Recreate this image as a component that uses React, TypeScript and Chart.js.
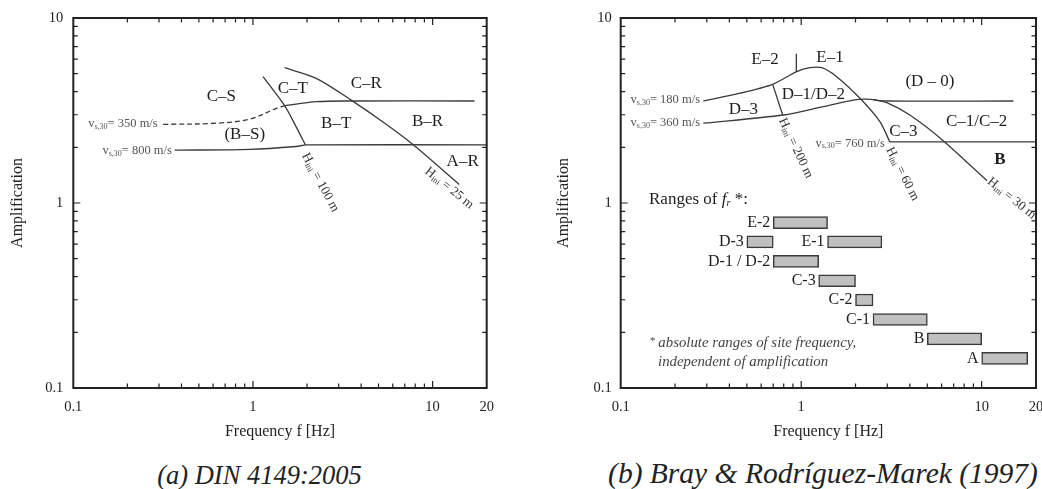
import React, { useEffect, useRef } from 'react';
import { Chart, registerables } from 'chart.js';

Chart.register(...registerables);

const SERIF = '"Liberation Serif", "Times New Roman", "DejaVu Serif", serif';

// ---------- axes ----------
const xTickLabels = [0.1, 1, 10, 20];
const yTickLabels = [0.1, 1, 10];
const minorTicks = [0.2, 0.3, 0.4, 0.5, 0.6, 0.7, 0.8, 0.9, 2, 3, 4, 5, 6, 7, 8, 9];
const majorTicks = [1, 10];

// ---------- (a) DIN 4149:2005 ----------
const din350DashF = [0.316, 0.626, 0.959, 1.35, 1.5];
const din350DashA = [2.66, 2.7, 2.84, 3.25, 3.36];
const din350F = [1.5, 1.74, 2.25, 3.44, 17.1];
const din350A = [3.36, 3.42, 3.53, 3.56, 3.56];
const din800F = [0.367, 0.959, 1.74, 1.98, 20];
const din800A = [1.93, 1.95, 2.02, 2.06, 2.06];
const dinH100F = [1.137, 1.5, 1.74, 1.96];
const dinH100A = [4.82, 3.36, 2.58, 2.06];
const dinH25F = [1.5, 2.25, 3.52, 5.27, 7.74, 14.07];
const dinH25A = [5.39, 4.72, 3.6, 2.75, 2.08, 1.26];

const dinZoneLabels = ['C\u2013S', 'C\u2013T', 'C\u2013R', '(B\u2013S)', 'B\u2013T', 'B\u2013R', 'A\u2013R'];
const dinZoneF = [0.667, 1.668, 4.27, 0.9, 2.906, 9.38, 14.7];
const dinZoneA = [3.75, 4.17, 4.44, 2.35, 2.7, 2.75, 1.67];
const dinVelLabels = ['350 m/s', '800 m/s'];
const dinVelF = [0.295, 0.354];
const dinVelA = [2.67, 1.91];
const dinDepthLabels = ['100 m', '25 m'];
const dinDepthF = [2.37, 12.38];
const dinDepthA = [1.29, 1.205];
const dinDepthAngle = [61.5, 38.7];

// ---------- (b) Bray & Rodríguez-Marek (1997) ----------
const br180F = [0.287, 0.458, 0.695, 0.944, 1.119, 1.3, 1.573, 2.117, 2.73, 3.1];
const br180A = [3.56, 3.92, 4.38, 5.13, 5.39, 5.39, 4.82, 3.68, 2.75, 2.14];
const br760F = [3.1, 20];
const br760A = [2.14, 2.14];
const br360F = [0.287, 0.796, 1.325, 1.944, 2.3, 3.0, 15.0];
const br360A = [2.7, 2.99, 3.32, 3.6, 3.64, 3.56, 3.56];
const brH30F = [2.5, 3.0, 4.0, 6.1, 10.7];
const brH30A = [3.62, 3.48, 2.99, 2.18, 1.32];
const brH200F = [0.695, 0.79];
const brH200A = [4.38, 2.99];
const brDividerF = [0.94, 0.94];
const brDividerA = [6.4, 5.13];

const brZoneLabels = ['E\u20132', 'E\u20131', '(D \u2013 0)', 'D\u20131/D\u20132', 'D\u20133', 'C\u20131/C\u20132', 'C\u20133', 'B'];
const brZoneF = [0.63, 1.444, 5.17, 1.167, 0.478, 9.38, 3.68, 12.63];
const brZoneA = [5.93, 6.1, 4.53, 3.87, 3.22, 2.75, 2.43, 1.71];
const brVelLabels = ['180 m/s', '360 m/s', '760 m/s'];
const brVelF = [0.275, 0.275, 2.91];
const brVelA = [3.6, 2.72, 2.1];
const brDepthLabels = ['200 m', '60 m', '30 m'];
const brDepthF = [0.933, 3.64, 14.66];
const brDepthA = [1.98, 1.435, 1.06];
const brDepthAngle = [64.7, 62.7, 38.7];

// ranges of site frequency (floating bars)
const rangeCats = ['E-2', 'D-3', 'E-1', 'D-1 / D-2', 'C-3', 'C-2', 'C-1', 'B', 'A'];
const rangeLow = [0.7, 0.5, 1.4, 0.7, 1.25, 2.0, 2.5, 5, 10];
const rangeHigh = [1.4, 0.7, 2.8, 1.25, 2.0, 2.5, 5, 10, 18];
const rangeRow = [0.784, 0.616, 0.616, 0.484, 0.38, 0.299, 0.2346, 0.1842, 0.1447];

const rangesTitleF = 0.1435;
const rangesTitleA = 1.047;
const noteF = [0.1455, 0.161];
const noteA = [0.1745, 0.1377];
const noteLines = ['absolute ranges of site frequency,', 'independent of amplification'];

// ---------- helpers ----------
type Part = { t: string; size: number; italic?: boolean; bold?: boolean; dy?: number };

const pts = (fs: number[], as: number[]) => fs.map((f, i) => ({ x: f, y: as[i] }));

function fontOf(p: Part) {
  return `${p.italic ? 'italic ' : ''}${p.bold ? 'bold ' : ''}${p.size}px ${SERIF}`;
}

function drawParts(
  ctx: CanvasRenderingContext2D,
  parts: Part[],
  x: number,
  y: number,
  align: 'left' | 'center' | 'right',
  color: string,
  angle = 0
) {
  ctx.save();
  ctx.translate(x, y);
  if (angle) ctx.rotate((angle * Math.PI) / 180);
  ctx.textAlign = 'left';
  ctx.textBaseline = 'middle';
  ctx.fillStyle = color;
  const widths = parts.map((p) => {
    ctx.font = fontOf(p);
    return ctx.measureText(p.t).width;
  });
  const total = widths.reduce((a, b) => a + b, 0);
  let cx = align === 'left' ? 0 : align === 'center' ? -total / 2 : -total;
  parts.forEach((p, i) => {
    ctx.font = fontOf(p);
    ctx.fillText(p.t, cx, p.dy || 0);
    cx += widths[i];
  });
  ctx.restore();
}

const lineDs = (fs: number[], as: number[], extra: any = {}) => ({
  type: 'line',
  data: pts(fs, as),
  borderColor: '#3a3a3a',
  borderWidth: 1.3,
  pointRadius: 0,
  fill: false,
  tension: 0.3,
  ...extra,
});

const frameTicksPlugin = {
  id: 'frameTicks',
  afterDraw(chart: any) {
    const { ctx, chartArea } = chart;
    const { left, right, top, bottom } = chartArea;
    const xs = chart.scales.x;
    const ys = chart.scales.y;
    ctx.save();
    ctx.strokeStyle = '#222';
    ctx.lineWidth = 1.2;
    const tick = (vals: number[], len: number) => {
      vals.forEach((v) => {
        const px = xs.getPixelForValue(v);
        if (px > left + 1 && px < right - 1) {
          ctx.beginPath();
          ctx.moveTo(px, bottom);
          ctx.lineTo(px, bottom - len);
          ctx.moveTo(px, top);
          ctx.lineTo(px, top + len);
          ctx.stroke();
        }
        const py = ys.getPixelForValue(v);
        if (py > top + 1 && py < bottom - 1) {
          ctx.beginPath();
          ctx.moveTo(left, py);
          ctx.lineTo(left + len, py);
          ctx.moveTo(right, py);
          ctx.lineTo(right - len, py);
          ctx.stroke();
        }
      });
    };
    tick(minorTicks, 4.5);
    tick(majorTicks, 7);
    ctx.lineWidth = 2;
    ctx.strokeRect(left, top, right - left, bottom - top);
    ctx.restore();
  },
};

function makeLabelPlugin(draw: (chart: any) => void) {
  return { id: 'labels', afterDatasetsDraw: draw };
}

function velParts(v: string): Part[] {
  return [
    { t: 'v', size: 12.5 },
    { t: 's,30', size: 8, dy: 3 },
    { t: '= ' + v, size: 12.5 },
  ];
}
function depthParts(v: string): Part[] {
  return [
    { t: 'H', size: 13 },
    { t: 'ini', size: 8.5, dy: 3 },
    { t: ' = ' + v, size: 13 },
  ];
}

function baseScales(yAxisWidth: number, yTitlePad: number, yTickPad: number) {
  return {
    x: {
      type: 'logarithmic',
      min: 0.1,
      max: 20,
      position: 'bottom',
      offset: false,
      beginAtZero: false,
      grid: { display: false, drawTicks: false, offset: false },
      border: { display: false },
      afterBuildTicks: (s: any) => {
        s.ticks = xTickLabels.map((v) => ({ value: v }));
      },
      ticks: {
        autoSkip: false,
        maxRotation: 0,
        minRotation: 0,
        padding: 10,
        color: '#222',
        font: { family: SERIF, size: 14.5 },
        callback: (v: any) => String(v),
      },
      title: {
        display: true,
        text: 'Frequency f [Hz]',
        color: '#222',
        font: { family: SERIF, size: 16 },
        padding: { top: 0, bottom: 3.4 },
      },
      afterFit: (s: any) => {
        s.height = 57;
        s.paddingLeft = 0;
        s.paddingRight = 0;
      },
    },
    y: {
      type: 'logarithmic',
      min: 0.1,
      max: 10,
      position: 'left',
      offset: false,
      beginAtZero: false,
      grid: { display: false, drawTicks: false, offset: false },
      border: { display: false },
      afterBuildTicks: (s: any) => {
        s.ticks = yTickLabels.map((v) => ({ value: v }));
      },
      ticks: {
        autoSkip: false,
        padding: yTickPad,
        color: '#222',
        font: { family: SERIF, size: 14.5 },
        callback: (v: any) => String(v),
      },
      title: {
        display: true,
        text: 'Amplification',
        color: '#222',
        font: { family: SERIF, size: 16 },
        padding: { top: yTitlePad, bottom: 0 },
      },
      afterFit: (s: any) => {
        s.width = yAxisWidth;
        s.paddingTop = 0;
        s.paddingBottom = 0;
      },
    },
  };
}

function leftConfig(): any {
  const labels = makeLabelPlugin((chart: any) => {
    const { ctx } = chart;
    const xs = chart.scales.x;
    const ys = chart.scales.y;
    dinZoneLabels.forEach((t, i) => {
      drawParts(ctx, [{ t, size: 17 }], xs.getPixelForValue(dinZoneF[i]), ys.getPixelForValue(dinZoneA[i]), 'center', '#1e1e1e');
    });
    dinVelLabels.forEach((t, i) => {
      drawParts(ctx, velParts(t), xs.getPixelForValue(dinVelF[i]), ys.getPixelForValue(dinVelA[i]), 'right', '#555');
    });
    dinDepthLabels.forEach((t, i) => {
      drawParts(ctx, depthParts(t), xs.getPixelForValue(dinDepthF[i]), ys.getPixelForValue(dinDepthA[i]), 'center', '#333', dinDepthAngle[i]);
    });
  });
  return {
    type: 'line',
    data: {
      datasets: [
        lineDs(din350DashF, din350DashA, { borderDash: [5, 3], tension: 0.35 }),
        lineDs(din350F, din350A, { tension: 0.35 }),
        lineDs(din800F, din800A),
        lineDs(dinH100F, dinH100A),
        lineDs(dinH25F, dinH25A),
      ],
    },
    options: {
      responsive: false,
      animation: false,
      devicePixelRatio: 1,
      events: [],
      layout: { padding: { left: 0, top: 18, right: 43.3, bottom: 0 } },
      plugins: { legend: { display: false }, tooltip: { enabled: false }, title: { display: false } },
      scales: baseScales(73.3, 7.9, 10),
    },
    plugins: [frameTicksPlugin, labels],
  };
}

function rightConfig(): any {
  const labels = makeLabelPlugin((chart: any) => {
    const { ctx } = chart;
    const xs = chart.scales.x;
    const ys = chart.scales.y;
    brZoneLabels.forEach((t, i) => {
      drawParts(ctx, [{ t, size: 17, bold: t === 'B' }], xs.getPixelForValue(brZoneF[i]), ys.getPixelForValue(brZoneA[i]), 'center', '#1e1e1e');
    });
    brVelLabels.forEach((t, i) => {
      drawParts(ctx, velParts(t), xs.getPixelForValue(brVelF[i]), ys.getPixelForValue(brVelA[i]), 'right', '#555');
    });
    brDepthLabels.forEach((t, i) => {
      drawParts(ctx, depthParts(t), xs.getPixelForValue(brDepthF[i]), ys.getPixelForValue(brDepthA[i]), 'center', '#333', brDepthAngle[i]);
    });
    drawParts(
      ctx,
      [
        { t: 'Ranges of ', size: 17 },
        { t: 'f', size: 17, italic: true },
        { t: 'r', size: 10.5, italic: true, dy: 4 },
        { t: ' *:', size: 17 },
      ],
      xs.getPixelForValue(rangesTitleF),
      ys.getPixelForValue(rangesTitleA),
      'left',
      '#1e1e1e'
    );
    noteLines.forEach((t, i) => {
      const parts: Part[] = i === 0 ? [{ t: '* ', size: 11, dy: -2 }, { t, size: 14.8, italic: true }] : [{ t, size: 14.8, italic: true }];
      drawParts(ctx, parts, xs.getPixelForValue(noteF[i]), ys.getPixelForValue(noteA[i]), 'left', '#444');
    });
    const meta = chart.getDatasetMeta(chart.data.datasets.length - 1);
    meta.data.forEach((el: any, i: number) => {
      const { base, x, y } = el.getProps(['base', 'x', 'y'], true);
      drawParts(ctx, [{ t: rangeCats[i], size: 16 }], Math.min(base, x) - 3, y, 'right', '#1e1e1e');
    });
  });
  return {
    type: 'line',
    data: {
      datasets: [
        lineDs(br180F, br180A, { tension: 0.25 }),
        lineDs(br760F, br760A, { tension: 0 }),
        lineDs(br360F, br360A, { tension: 0.3 }),
        lineDs(brH30F, brH30A, { tension: 0.25 }),
        lineDs(brH200F, brH200A, { tension: 0 }),
        lineDs(brDividerF, brDividerA, { tension: 0 }),
        {
          type: 'bar',
          indexAxis: 'y',
          data: rangeLow.map((lo, i) => ({ x: [lo, rangeHigh[i]], y: rangeRow[i] })),
          backgroundColor: '#c0c0c0',
          borderColor: '#3a3a3a',
          borderWidth: 1.5,
          borderSkipped: false,
          barThickness: 12,
        },
      ],
    },
    options: {
      responsive: false,
      animation: false,
      devicePixelRatio: 1,
      events: [],
      layout: { padding: { left: 0, top: 18, right: 6, bottom: 0 } },
      plugins: { legend: { display: false }, tooltip: { enabled: false }, title: { display: false } },
      scales: baseScales(90.7, 23.7, 9),
    },
    plugins: [frameTicksPlugin, labels],
  };
}

export default function App() {
  const leftRef = useRef<HTMLCanvasElement>(null);
  const rightRef = useRef<HTMLCanvasElement>(null);

  useEffect(() => {
    const c1 = new Chart(leftRef.current as HTMLCanvasElement, leftConfig());
    const c2 = new Chart(rightRef.current as HTMLCanvasElement, rightConfig());
    return () => {
      c1.destroy();
      c2.destroy();
    };
  }, []);

  const capStyle: React.CSSProperties = {
    position: 'absolute',
    height: 32,
    lineHeight: '32px',
    textAlign: 'center',
    fontFamily: SERIF,
    fontStyle: 'italic',
    color: '#222',
    whiteSpace: 'nowrap',
  };

  return (
    <div style={{ position: 'absolute', left: 0, top: 0, width: 1042, height: 489, background: '#fff', overflow: 'hidden' }}>
      <canvas ref={leftRef} width={530} height={445} style={{ position: 'absolute', left: 0, top: 0, width: 530, height: 445 }} />
      <canvas ref={rightRef} width={512} height={445} style={{ position: 'absolute', left: 530, top: 0, width: 512, height: 445 }} />
      <div style={{ ...capStyle, top: 459, left: 0, width: 519, fontSize: 26.5 }}>(a) DIN 4149:2005</div>
      <div style={{ ...capStyle, top: 457, left: 523, width: 600, fontSize: 29.5 }}>(b) Bray &amp; Rodríguez-Marek (1997)</div>
    </div>
  );
}
